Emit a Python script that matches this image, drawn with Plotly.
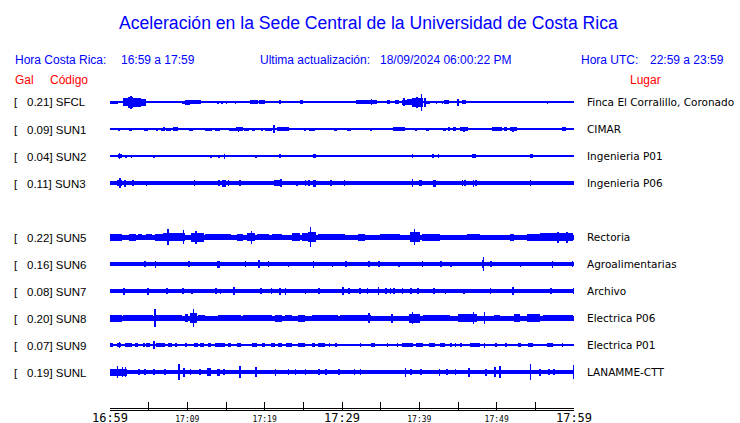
import plotly.graph_objects as go

# ---------------- data ----------------
STATIONS = ["SFCL", "SUN1", "SUN2", "SUN3", "SUN5", "SUN6", "SUN7", "SUN8", "SUN9", "SUNL"]
SLOTS = [0, 1, 2, 3, 5, 6, 7, 8, 9, 10]          # SUN4 slot is empty
GAL = [0.21, 0.09, 0.04, 0.11, 0.22, 0.16, 0.08, 0.20, 0.07, 0.19]
LUGAR = ["Finca El Corralillo, Coronado", "CIMAR", "Ingenieria P01", "Ingenieria P06",
         "Rectoria", "Agroalimentarias", "Archivo", "Electrica P06", "Electrica P01", "LANAMME-CTT"]
NOISE = [0.6, 0.6, 0.6, 2.2, 2.5, 2.0, 1.8, 2.5, 0.6, 2.0]   # background half-amplitude

TICK_MIN = [0, 5, 10, 15, 20, 25, 30, 35, 40, 45, 50, 55, 60]
TICK_TXT = ["16:59", "", "17:09", "", "17:19", "", "17:29", "", "17:39", "", "17:49", "", "17:59"]
TICK_BIG = [True, False, False, False, False, False, True, False, False, False, False, False, True]

# events: (start minute, end minute, half-amplitude)
EV_SFCL = [(0,1.0,1.5),(1.3,1.5,1.2),(1.7,2.3,4),(2.3,3.0,5.5),(2.6,2.6,6.5),(3.0,4.0,4.5),(4.0,4.7,3.5),
           (9.3,9.7,1.5),(9.7,10.3,2.5),(10.3,11.8,1.7),(12.9,12.9,1.2),(13.9,13.9,1.5),(14.4,14.4,1.5),
           (14.95,14.95,1.5),(16.1,16.1,1.5),(18.1,19.2,1.7),(19.3,20.1,2.0),(20.9,20.9,1.3),(21.4,21.4,1.3),
           (21.85,22.1,1.8),(24.6,24.9,1.7),(31.25,31.25,1.2),(31.8,32.8,1.8),(32.8,34.5,2.0),(33.7,33.7,3),
           (34.9,34.9,1.2),(35.6,35.6,1.2),(35.8,36.2,2),(36.8,37.4,2),(37.7,38.4,2.5),(37.9,37.9,4),
           (38.4,39.0,3),(39.0,40.5,4.5),(39.6,39.6,5.5),(40.2,40.2,8.5),(40.6,40.6,4.5),(40.7,41.4,1.5),
           (42.1,42.1,1.5),(42.9,42.9,1.5),(43.2,43.8,1.8),(44.2,44.2,1.3),(44.9,44.9,3.5),(45.5,46.0,2),
           (47.2,47.2,1.2),(47.6,47.6,1.2),(49.1,49.1,1.2),(56.5,56.5,1.5)]
EV_SUN1 = [(0.43,0.43,1.3),(1.0,1.3,1.5),(1.85,1.85,1.3),(2.45,2.8,1.5),(3.15,3.15,1.3),(3.57,3.57,1.3),
           (3.88,3.88,1.3),(4.4,4.95,1.5),(5.3,5.3,1.3),(5.9,6.16,1.5),(6.6,7.0,1.5),(6.9,6.9,2),(7.24,7.84,1.5),
           (8.19,8.75,2),(8.45,8.45,2.3),(9.18,9.18,1.3),(9.6,9.6,1.3),(9.9,9.9,1.3),(10.2,10.77,1.5),
           (11.07,11.07,1.3),(11.55,11.55,1.3),(12.28,13.14,1.5),(13.57,14.2,1.5),(15.08,15.08,1.3),
           (15.4,16.25,1.5),(16.3,17.0,2),(16.5,16.5,2.5),(16.95,16.95,2.2),(17.37,17.97,1.5),(18.3,18.75,1.5),
           (18.96,18.96,1.3),(19.5,19.8,1.5),(20.1,20.9,1.5),(21.1,21.1,4),(21.55,23.14,1.7),(22.5,22.5,2),
           (23.7,23.7,1.3),(24.05,24.05,1.3),(24.7,24.7,1.3),(25.1,25.4,1.5),(25.7,26.5,1.5),(27.0,27.0,1.3),
           (29.0,29.3,1.5),(29.74,29.74,1.3),(30.17,30.17,1.3),(30.7,31.2,1.5),(31.7,31.7,1.3),(32.0,32.0,1.3),
           (32.3,32.3,1.3),(33.6,33.9,1.5),(34.05,34.05,1.3),(34.7,34.7,1.3),(35.3,35.3,1.3),(35.8,35.8,1.3),
           (36.2,36.2,1.3),(36.6,38.1,1.7),(38.4,38.4,1.3),(38.9,38.9,1.3),(39.4,39.7,1.5),(40.3,40.3,1.3),
           (40.86,41.2,1.5),(41.6,41.6,1.3),(42.2,42.2,1.3),(42.9,42.9,1.3),(43.1,43.4,1.5),(43.75,43.75,2.2),
           (44.3,44.7,2),(45.26,46.25,2),(45.7,45.7,2.5),(47.2,47.2,1.3),(48.2,48.2,1.3),(49.4,50.65,1.7),
           (50.95,51.4,1.7),(51.2,51.2,2.3),(51.7,52.6,2),(52.0,52.0,2.5),(53.0,53.0,1.3),(53.8,53.8,1.3),
           (54.1,54.1,1.3),(54.5,54.5,1.3),(55.2,55.2,1.3),(55.8,55.8,1.3),(56.7,56.7,1.3),(57.5,57.5,1.3),
           (58.4,59.0,1.7),(59.5,59.5,1.3),(59.9,59.9,1.3)]
EV_SUN2 = [(0.56,0.56,1),(1.0,1.6,2),(1.15,1.15,3),(1.95,1.95,1.5),(2.7,2.7,1.5),(5.6,5.6,1.5),(7.0,7.0,1),
           (7.97,7.97,1),(12.4,12.4,1.2),(12.97,12.97,1.5),(14.0,14.0,1.5),(14.7,14.7,2.5),(15.7,15.7,1),
           (16.3,16.3,1.2),(18.8,18.8,1.5),(21.4,21.4,1.2),(21.9,22.1,2),(22.8,22.8,1.2),(23.3,23.3,1.2),
           (25.2,25.2,1.2),(25.7,25.7,1.2),(26.3,26.7,2),(28.5,28.5,1),(38.4,38.4,1.2),(39.0,39.0,2),
           (41.6,41.9,2),(42.4,42.4,1.8),(45.5,45.5,1.2),(45.8,45.8,1.2),(46.8,47.3,2),(48.3,48.3,1.2),
           (54.1,54.1,1.2),(54.3,54.65,2)]
EV_SUN3 = [(0.86,1.5,3),(1.16,1.16,5.3),(1.85,1.85,3.5),(2.9,2.9,3.3),(4.6,4.6,2.5),(10.8,10.8,2.7),
           (14.0,14.0,3),(14.5,14.95,3.5),(15.2,15.2,2.7),(16.7,16.7,3),(21.25,22.2,3),(21.98,21.98,4),
           (24.1,24.1,2.5),(25.2,25.2,2.7),(25.6,25.6,2.7),(26.3,26.6,3.5),(28.45,28.45,2.7),(30.2,30.2,2.7),
           (39.0,39.0,4),(39.9,39.9,3),(40.1,40.1,3),(41.8,42.2,3.5),(45.5,45.5,2.7),(45.8,45.8,2.7),
           (46.9,46.9,3.5),(47.2,47.2,3),(54.3,54.3,3)]
EV_SUN5 = [(0,1.5,3.5),(2.4,3.4,3.5),(3.6,4.2,3.2),(4.7,5.4,3.2),(5.8,6.9,3.5),(6.9,8.4,4.2),(7.4,7.4,8),
           (8.4,9.7,4),(9.4,9.4,7),(10.5,12.1,4.5),(11.0,11.0,6.5),(12.3,14.0,3.2),(14.0,15.7,3.2),
           (16.4,17.2,3.5),(17.7,18.75,4.2),(18.2,18.2,6.5),(19.0,20.5,3.2),(20.9,22.2,3.2),(23.5,24.6,4.2),
           (24.8,25.6,3.8),(25.6,26.7,5),(25.8,25.8,10),(26.9,30.4,3.2),(32.1,33.0,3.5),(34.9,37.5,3.2),
           (38.8,40.1,5),(39.3,39.3,8),(40.3,42.7,3.5),(46.1,47.8,3.2),(51.7,52.2,3.5),(53.9,55.6,3.5),
           (55.6,59.9,3.8),(57.8,57.8,5.5),(59.0,59.0,5.5)]
EV_SUN6 = [(4.4,4.4,3),(5.8,5.8,3.5),(10.1,10.1,3),(13.9,14.2,3.5),(17.45,17.45,3),(19.2,19.2,4),
           (20.4,20.4,3),(23.0,23.0,2.5),(26.2,26.4,3.5),(28.7,28.7,2.5),(30.4,30.4,3),(33.4,33.4,3),
           (34.7,34.7,3),(37.3,37.3,2.5),(40.3,40.3,3),(42.7,42.7,3),(44.0,44.0,2.5),(48.1,48.3,4),
           (48.2,48.2,7),(49.2,49.2,3),(53.0,53.0,2.5),(57.1,57.1,3.5),(59.7,59.7,3)]
EV_SUN7 = [(1.7,2.0,3.5),(4.8,4.8,3.5),(7.3,7.3,3),(9.35,9.35,3),(10.5,10.5,2.5),(13.6,13.6,3),
           (14.2,14.2,2.5),(15.9,15.9,4),(19.4,19.4,3),(20.8,20.8,3),(21.85,22.1,3.5),(22.6,22.6,3.5),
           (25.2,25.2,2.5),(26.9,26.9,3),(30.0,30.3,4),(30.8,30.8,3),(32.2,32.2,3),(33.2,33.2,3),
           (34.6,34.6,4),(35.6,35.6,3),(36.2,36.2,3),(36.6,36.6,3),(37.7,37.7,3),(38.8,38.8,3),
           (39.7,39.7,3),(41.8,41.8,3),(43.3,43.3,2.5),(45.7,45.7,2.5),(49.1,49.1,3),(52.0,52.2,4),
           (56.9,56.9,3),(59.9,59.9,3)]
EV_SUN8 = [(0,1.5,3.5),(1.7,3.66,3.2),(3.66,5.6,3.2),(5.73,5.73,9),(6.0,9.3,3.4),(9.7,10.1,4),
           (10.3,11.2,5),(10.7,10.7,9),(11.4,12.3,3.4),(14.0,17.0,3.4),(17.2,20.9,3.2),(21.3,22.2,3.5),
           (22.6,23.5,3.2),(24.3,25.2,3.5),(26.1,29.5,3.2),(29.7,33.8,3.4),(33.4,33.4,5),(36.4,36.4,4.5),
           (38.6,40.1,4.5),(39.0,39.0,6),(40.5,44.0,3.4),(45.0,47.4,3.8),(46.9,46.9,6),(48.3,48.3,6),
           (49.6,50.4,3.2),(52.2,53.0,4.2),(53.9,55.6,3.8),(56.0,59.9,3.2)]
EV_SUN9 = [(0,0.4,1.7),(0.86,1.4,2),(1.15,1.15,2.7),(1.9,2.8,1.7),(3.2,3.66,1.7),(4.3,4.3,1.7),
           (4.7,5.15,1.7),(5.6,5.6,4),(6.0,7.1,1.7),(7.5,7.97,1.7),(8.4,8.4,1.7),(9.7,9.7,1.7),
           (10.9,11.4,1.7),(11.6,12.1,1.7),(12.7,13.1,1.7),(13.6,14.9,1.7),(15.3,15.7,1.7),(16.4,17.0,1.7),
           (18.3,18.96,1.7),(19.6,20.0,1.7),(20.8,21.3,1.7),(21.75,22.2,1.7),(22.8,23.5,1.7),(24.35,25.2,1.7),
           (26.1,26.5,1.7),(26.9,27.8,1.7),(28.3,28.3,1.7),(29.1,29.1,1.7),(32.3,32.3,1.7),(33.8,34.3,1.7),
           (35.8,35.8,1.7),(37.1,37.1,1.7),(37.8,39.2,1.7),(39.6,40.5,1.7),(41.2,42.0,1.7),(42.7,43.3,1.7),
           (44.0,44.0,1.7),(44.6,44.6,1.7),(45.3,45.3,1.7),(46.55,47.8,1.7),(48.3,48.3,2.5),(49.8,49.8,1.7),
           (51.1,51.1,1.7),(52.8,53.2,1.7),(54.1,54.7,1.7),(56.5,57.3,1.7),(58.4,58.4,1.7)]
EV_SUNL = [(0,2.15,3.5),(0.86,0.86,6),(1.5,1.5,5),(1.9,1.9,5),(3.66,3.66,3),(4.4,4.4,3),(5.6,5.6,3),
           (7.0,7.0,3),(8.8,8.8,8),(9.5,9.5,4.5),(10.3,10.3,3),(11.55,11.55,3),(12.5,13.1,4),(13.8,14.2,3.5),
           (14.65,14.65,3),(16.7,16.7,6),(18.75,18.75,5),(21.3,21.3,3.5),(23.0,23.0,3),(23.9,23.9,3),
           (25.2,25.2,3),(26.9,26.9,3),(27.8,27.8,3),(29.5,29.5,3),(31.5,31.5,3),(32.3,32.3,3),(38.1,38.1,4.5),
           (38.8,38.8,3),(40.1,40.1,3),(42.5,42.5,3.5),(43.5,43.5,3),(44.6,44.6,3),(46.3,46.6,4.5),
           (48.5,48.5,3.5),(49.7,49.7,5),(50.3,50.3,6),(54.3,54.3,8),(55.5,55.5,3.5),(56.7,56.7,3),
           (57.3,57.3,3),(59.9,59.9,7)]
EVENTS = [EV_SFCL, EV_SUN1, EV_SUN2, EV_SUN3, EV_SUN5, EV_SUN6, EV_SUN7, EV_SUN8, EV_SUN9, EV_SUNL]

# ---------------- layout geometry ----------------
W, H = 740, 423
PL, PR, PT, PB = 110, 574, 88, 410      # plot area in pixels
ROW0 = 102                               # pixel row of first trace
ROW_STEP = 27
BLUE = "#0000FF"
RED = "#FF0000"
MINW = 0.2

def px(xp):
    return (xp - PL) / (PR - PL)

def py(yp):
    return (PB - yp) / (PB - PT)

fig = go.Figure()
for st, slot, noise, ev in zip(STATIONS, SLOTS, NOISE, EVENTS):
    yc = -slot * ROW_STEP
    xs, ws, bases, hs = [30.0], [60.0], [yc - noise], [2 * noise]
    for t0, t1, a in ev:
        w = max(t1 - t0, MINW)
        xs.append(t0 + w / 2)
        ws.append(w)
        bases.append(yc - a)
        hs.append(2 * a)
    fig.add_trace(go.Bar(x=xs, y=hs, base=bases, width=ws, name=st,
                         marker=dict(color=BLUE, line=dict(width=0)), opacity=1,
                         hoverinfo="skip", showlegend=False))

# time-axis baseline: a thin strip just inside the bottom edge of the plot area
t_lo, t_hi = TICK_MIN[0], TICK_MIN[-1]
fig.add_trace(go.Bar(x=[(t_lo + t_hi) / 2], y=[1], base=[ROW0 - PB + 1], width=[t_hi - t_lo],
                     marker=dict(color="black", line=dict(width=0)), opacity=1,
                     hoverinfo="skip", showlegend=False))

ticktext = [t if big else (f'<span style="font-size:8px">{t}</span>' if t else "")
            for t, big in zip(TICK_TXT, TICK_BIG)]

fig.update_layout(
    width=W, height=H, barmode="overlay", bargap=0,
    margin=dict(l=PL, r=W - PR, t=PT, b=H - PB, pad=0, autoexpand=False),
    plot_bgcolor="white", paper_bgcolor="white", showlegend=False,
    xaxis=dict(range=[0, 60], tickmode="array", tickvals=TICK_MIN, ticktext=ticktext,
               ticks="inside", ticklen=8, tickwidth=1, tickcolor="black",
               showline=True, linecolor="black", linewidth=1,
               showgrid=False, zeroline=False, ticklabelstandoff=-3,
               tickfont=dict(family="DejaVu Sans Mono", size=12, color="black"), fixedrange=True),
    yaxis=dict(range=[ROW0 - PB, ROW0 - PT],
               visible=False, showgrid=False, zeroline=False, fixedrange=True),
)

ann = []
def txt(x, y, s, color="black", size=12, family="Liberation Sans, Arial", xanchor="left"):
    ann.append(dict(x=px(x), y=py(y), xref="paper", yref="paper", text=s, showarrow=False,
                    xanchor=xanchor, yanchor="middle",
                    font=dict(color=color, size=size, family=family)))

DX = -2
txt(368, 23, "Aceleración en la Sede Central de la Universidad de Costa Rica", BLUE, 17.6, xanchor="center")
txt(15 + DX, 60, "Hora Costa Rica:", BLUE)
txt(121 + DX, 60, "16:59 a 17:59", BLUE)
txt(260 + DX, 60, "Ultima actualización:", BLUE)
txt(380 + DX, 60, "18/09/2024 06:00:22 PM", BLUE)
txt(581 + DX, 60, "Hora UTC:", BLUE)
txt(650 + DX, 60, "22:59 a 23:59", BLUE)
txt(15 + DX, 80, "Gal", RED)
txt(50 + DX, 80, "Código", RED)
txt(630 + DX, 80, "Lugar", RED)

for st, slot, g, lug in zip(STATIONS, SLOTS, GAL, LUGAR):
    yrow = ROW0 + slot * ROW_STEP
    txt(14 + DX, yrow + 0.5, "[", size=11.5)
    txt(27 + DX, yrow + 0.5, f"{g:.2f}] {st}", size=11.5)
    txt(587 + DX, yrow, lug, size=10.5, family="DejaVu Sans")

fig.update_layout(annotations=ann)
fig.write_html("out.html", config={"displayModeBar": False, "staticPlot": True},
               post_script="document.body.style.margin='0';document.body.style.padding='0';")
